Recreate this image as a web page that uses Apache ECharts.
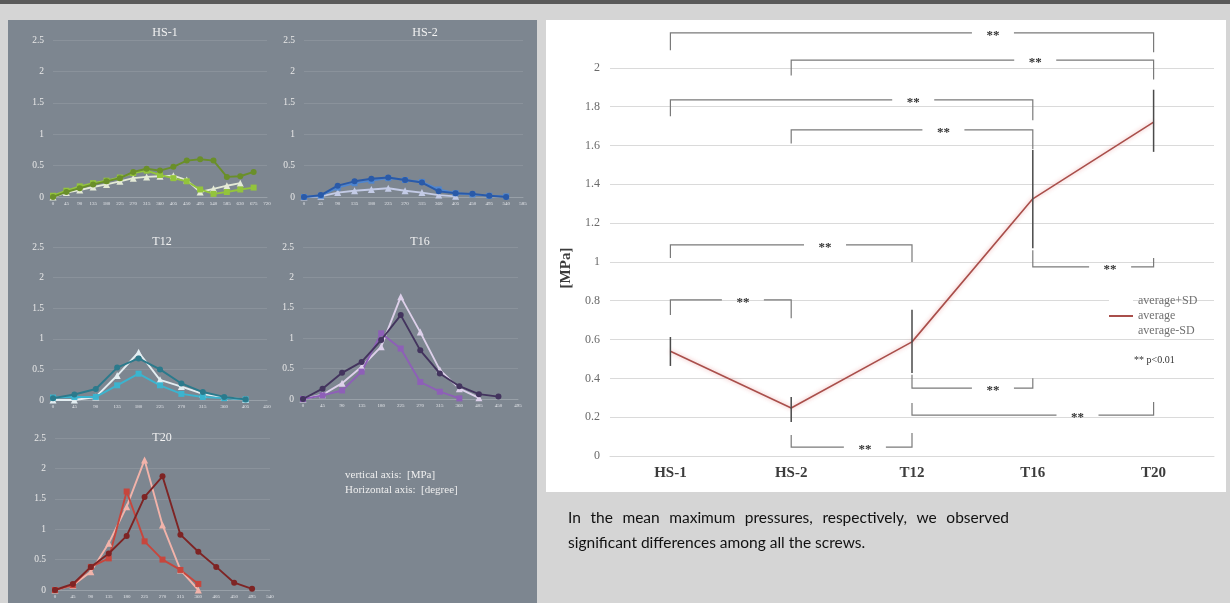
<!DOCTYPE html>
<html><head><meta charset="utf-8">
<script src="https://cdn.jsdelivr.net/npm/echarts@6/dist/echarts.min.js"></script>
<style>html,body{margin:0;padding:0;background:#d5d5d5;}#c{width:1230px;height:603px;}</style>
</head><body><div id="c"></div><script>
// ---------- small panels: degrees and pressures [MPa] ----------
const hs1Deg = [0,45,90,135,180,225,270,315,360,405,450,495,540,585,630,675];
const hs1Dark = [0,0.08,0.14,0.2,0.25,0.3,0.4,0.45,0.42,0.48,0.58,0.6,0.58,0.32,0.33,0.4];
const hs1Light = [0,0.07,0.11,0.16,0.2,0.25,0.3,0.32,0.33,0.34,0.27,0.08,0.13,0.18,0.22];
const hs1Mid = [0.02,0.1,0.17,0.22,0.26,0.31,0.38,0.42,0.35,0.3,0.25,0.12,0.05,0.08,0.12,0.15];

const hs2Deg = [0,45,90,135,180,225,270,315,360,405,450,495,540];
const hs2Dark = [0,0.03,0.18,0.25,0.29,0.31,0.27,0.23,0.09,0.06,0.05,0.02,0];
const hs2Light = [0,0.01,0.07,0.1,0.12,0.14,0.1,0.07,0.03,0.01];
const hs2Mid = [0,0.02,0.15,0.22,0.26,0.3,0.27,0.24,0.12,0.06,0.04,0.02,0.01];

const t12Deg = [0,45,90,135,180,225,270,315,360,405];
const t12Dark = [0.03,0.09,0.18,0.53,0.68,0.5,0.27,0.13,0.05,0.01];
const t12Light = [0,0,0.05,0.4,0.78,0.33,0.22,0.1,0.04,0.01];
const t12Mid = [0.04,0.05,0.05,0.24,0.43,0.24,0.1,0.05,0.03,0.01];

const t16Deg = [0,45,90,135,180,225,270,315,360,405,450];
const t16Dark = [0,0.17,0.43,0.61,0.97,1.38,0.8,0.42,0.21,0.08,0.04];
const t16Light = [0,0.07,0.26,0.53,0.86,1.68,1.1,0.48,0.17,0.02];
const t16Mid = [0,0.06,0.14,0.45,1.08,0.83,0.28,0.12,0.01];

const t20Deg = [0,45,90,135,180,225,270,315,360,405,450,495];
const t20Dark = [0,0.1,0.38,0.6,0.89,1.53,1.87,0.91,0.63,0.38,0.12,0.02];
const t20Light = [0,0.08,0.3,0.77,1.37,2.14,1.07,0.33,0];
const t20Mid = [0,0.08,0.38,0.52,1.62,0.8,0.5,0.33,0.1];

const panelTitles = ['HS-1','HS-2','T12','T16','T20'];
const panelMaxDeg = [720,585,450,495,540];

// ---------- main chart ----------
const mainCats = ['HS-1','HS-2','T12','T16','T20'];
const avgValues = [0.54,0.247,0.588,1.325,1.72];
const sdUpper = [0.613,0.304,0.753,1.577,1.887];
const sdLower = [0.464,0.175,0.428,1.07,1.567];
const yTicks = [0,0.2,0.4,0.6,0.8,1,1.2,1.4,1.6,1.8,2];

// significance brackets (category indices and MPa levels)
const bracketFrom = [0,1,0,1,0,0,1,2,2,3];
const bracketTo = [4,4,3,3,2,1,2,3,4,4];
const bracketLevel = [2.18,2.04,1.835,1.68,1.088,0.804,0.046,0.35,0.211,0.974];
const bracketLeftTip = [2.09,1.96,1.75,1.61,1.02,0.727,0.108,0.418,0.273,1.06];
const bracketRightTip = [2.08,1.94,1.73,1.58,1.0,0.71,0.119,0.40,0.278,1.02];
const starAt = [2.67,3.02,2.01,2.26,1.28,0.60,1.61,2.67,3.37,3.64];

const captionLine1 = ['In','the','mean','maximum','pressures,','respectively,','we','observed'];
const captionLine2 = 'significant differences among all the screws.';

// ---------- build ----------
const SERIF = 'Liberation Serif';
const panels = [
  {deg: hs1Deg, d: [hs1Dark, hs1Light, hs1Mid], c: ['#6a8f2a','#e4ead6','#93c43c']},
  {deg: hs2Deg, d: [hs2Dark, hs2Light, hs2Mid], c: ['#2a5aa8','#c3cbe6','#4f86d0']},
  {deg: t12Deg, d: [t12Dark, t12Light, t12Mid], c: ['#2b7a8c','#e3edf1','#3bb4cf']},
  {deg: t16Deg, d: [t16Dark, t16Light, t16Mid], c: ['#43345e','#ddd0ea','#8e5fb8']},
  {deg: t20Deg, d: [t20Dark, t20Light, t20Mid], c: ['#7e2424','#f2b3aa','#c7463d']}
];
const gridBoxes = [
  {left:53, top:40, width:214, height:157},
  {left:304, top:40, width:219, height:157},
  {left:53, top:247, width:214, height:153},
  {left:303, top:247, width:215, height:152},
  {left:55, top:438, width:215, height:152},
  {left:610, top:29, width:604, height:427}
];
const symbols = ['circle','triangle','rect'];

const grid = gridBoxes.map(g => Object.assign({}, g));
const xAxis = [], yAxis = [], series = [];
panels.forEach((p, gi) => {
  xAxis.push({gridIndex: gi, type:'value', min:0, max: panelMaxDeg[gi], interval:45,
    axisLine:{show:true, lineStyle:{color:'#98a0a8', width:1}}, axisTick:{show:false}, splitLine:{show:false},
    axisLabel:{fontSize:5, color:'#e4e6ea', margin:4, fontFamily:SERIF, showMaxLabel:true, showMinLabel:true}});
  yAxis.push({gridIndex: gi, type:'value', min:0, max:2.5, interval:0.5,
    axisLine:{show:false}, axisTick:{show:false},
    splitLine:{show:true, lineStyle:{color:'rgba(255,255,255,0.10)', width:1}},
    axisLabel:{fontSize:9.5, color:'#e8e8e8', margin:9, fontFamily:SERIF}});
  p.d.forEach((arr, k) => {
    series.push({type:'line', xAxisIndex: gi, yAxisIndex: gi, silent:true,
      data: arr.map((v, i) => [p.deg[i], v]),
      symbol: symbols[k], symbolSize: k === 1 ? 7 : 6,
      lineStyle:{color:p.c[k], width:1.9}, itemStyle:{color:p.c[k]}, z: k === 0 ? 4 : 3});
  });
});

// main axes
xAxis.push({gridIndex:5, type:'category', data: mainCats, boundaryGap:true,
  axisLine:{show:true, lineStyle:{color:'#d9d9d9'}}, axisTick:{show:false},
  axisLabel:{fontFamily:SERIF, fontWeight:'bold', fontSize:15, color:'#3c3c3c', margin:10}});
yAxis.push({gridIndex:5, type:'value', min:0, max:2.2, interval:0.2,
  axisLine:{show:false}, axisTick:{show:false},
  axisLabel:{fontFamily:SERIF, fontSize:12, color:'#6a6a6a', margin:10, showMaxLabel:false,
    formatter: v => { const t = yTicks.find(x => Math.abs(x - v) < 1e-6); return t === undefined ? '' : String(t); }},
  splitLine:{show:true, showMaxLine:false, lineStyle:{color:'#dadada', width:1}}});

const lineCol = '#a94f4b';
series.push({name:'average+SD', type:'line', xAxisIndex:5, yAxisIndex:5, data:[], itemStyle:{color:'#ffffff'}, lineStyle:{color:'#ffffff'}});
series.push({name:'average', type:'line', xAxisIndex:5, yAxisIndex:5, data: avgValues, symbol:'none', z:5,
  itemStyle:{color:lineCol},
  lineStyle:{color:lineCol, width:1.6, shadowColor:'rgba(235,160,160,0.9)', shadowBlur:4}});
series.push({name:'average-SD', type:'line', xAxisIndex:5, yAxisIndex:5, data:[], itemStyle:{color:'#ffffff'}, lineStyle:{color:'#ffffff'}});

// error bars
series.push({type:'custom', xAxisIndex:5, yAxisIndex:5, silent:true, z:6,
  data: mainCats.map((c, i) => [i, sdLower[i], sdUpper[i]]),
  encode:{x:0, y:[1,2]},
  renderItem: (params, api) => {
    const a = api.coord([api.value(0), api.value(1)]);
    const b = api.coord([api.value(0), api.value(2)]);
    return {type:'line', shape:{x1:a[0], y1:a[1], x2:b[0], y2:b[1]}, style:{stroke:'#4a4a4a', lineWidth:1.5}};
  }});

// significance brackets
series.push({type:'custom', xAxisIndex:5, yAxisIndex:5, silent:true, z:6,
  data: bracketFrom.map((f, i) => [f, bracketTo[i], bracketLevel[i], bracketLeftTip[i], bracketRightTip[i], starAt[i]]),
  encode:{x:[0,1], y:[2,3,4]},
  renderItem: (params, api) => {
    const f = api.value(0), t = api.value(1), lv = api.value(2), lt = api.value(3), rt = api.value(4), st = api.value(5);
    const pL = api.coord([f, lv]), pR = api.coord([t, lv]);
    const pLt = api.coord([f, lt]), pRt = api.coord([t, rt]);
    const c0 = api.coord([0, lv])[0], c1 = api.coord([1, lv])[0];
    const sx = c0 + (c1 - c0) * st;
    const gap = 21;
    const st1 = {stroke:'#7a7a7a', lineWidth:1.2, fill:null};
    return {type:'group', children:[
      {type:'polyline', shape:{points:[pLt, pL, [sx - gap, pL[1]]]}, style:st1},
      {type:'polyline', shape:{points:[[sx + gap, pR[1]], pR, pRt]}, style:st1},
      {type:'text', style:{text:'**', x:sx, y:pL[1] + 3, align:'center', verticalAlign:'middle',
        font:'bold 13px "Liberation Serif"', fill:'#333'}}
    ]};
  }});

// ---------- graphic: backgrounds, titles, captions ----------
const graphic = [
  {type:'rect', z:-10, shape:{x:0, y:0, width:1230, height:603}, style:{fill:'#d5d5d5'}},
  {type:'rect', z:-9, shape:{x:0, y:0, width:1230, height:4}, style:{fill:'#5a5a5a'}},
  {type:'rect', z:-9, shape:{x:8, y:20, width:529, height:583}, style:{fill:'#7d8690'}},
  {type:'rect', z:-9, shape:{x:546, y:20, width:680, height:472}, style:{fill:'#ffffff'}}
];
const titlePos = [[165,33],[425,33],[162,242],[420,242],[162,438]];
panelTitles.forEach((t, i) => graphic.push({type:'text', z:50, x:titlePos[i][0], y:titlePos[i][1],
  style:{text:t, font:'12px "Liberation Serif"', fill:'#f2f2f2', align:'center', verticalAlign:'middle'}}));
graphic.push({type:'text', z:50, x:345, y:475, style:{text:'vertical axis:  [MPa]', font:'11px "Liberation Serif"', fill:'#eeeeee', verticalAlign:'middle'}});
graphic.push({type:'text', z:50, x:345, y:490, style:{text:'Horizontal axis:  [degree]', font:'11px "Liberation Serif"', fill:'#eeeeee', verticalAlign:'middle'}});
graphic.push({type:'text', z:50, x:566, y:268, rotation:Math.PI/2,
  style:{text:'[MPa]', font:'bold 15px "Liberation Serif"', fill:'#3c3c3c', align:'center', verticalAlign:'middle'}});
graphic.push({type:'text', z:50, x:1134, y:360, style:{text:'** p<0.01', font:'10px "Liberation Serif"', fill:'#333', verticalAlign:'middle'}});

// justified caption line 1
const capFont = '15.5px Lato';
const cv = document.createElement('canvas').getContext('2d');
cv.font = capFont;
const capLeft = 568, capRight = 1009;
const widths = captionLine1.map(w => cv.measureText(w).width);
const gapW = (capRight - capLeft - widths.reduce((a, b) => a + b, 0)) / (captionLine1.length - 1);
let cx = capLeft;
captionLine1.forEach((w, i) => {
  graphic.push({type:'text', z:50, x:cx, y:518, style:{text:w, font:capFont, fill:'#111111', verticalAlign:'middle'}});
  cx += widths[i] + gapW;
});
graphic.push({type:'text', z:50, x:capLeft, y:543, style:{text:captionLine2, font:capFont, fill:'#111111', verticalAlign:'middle'}});

const chart = echarts.init(document.getElementById('c'), null, {renderer:'canvas'});
chart.setOption({
  animation:false,
  backgroundColor:'#d5d5d5',
  grid, xAxis, yAxis, series, graphic,
  legend:{data:['average+SD','average','average-SD'], orient:'vertical', left:1104, top:290,
    icon:'rect', itemWidth:24, itemHeight:2, itemGap:3, selectedMode:false,
    textStyle:{fontFamily:SERIF, fontSize:12, color:'#707070'}}
});
</script></body></html>
